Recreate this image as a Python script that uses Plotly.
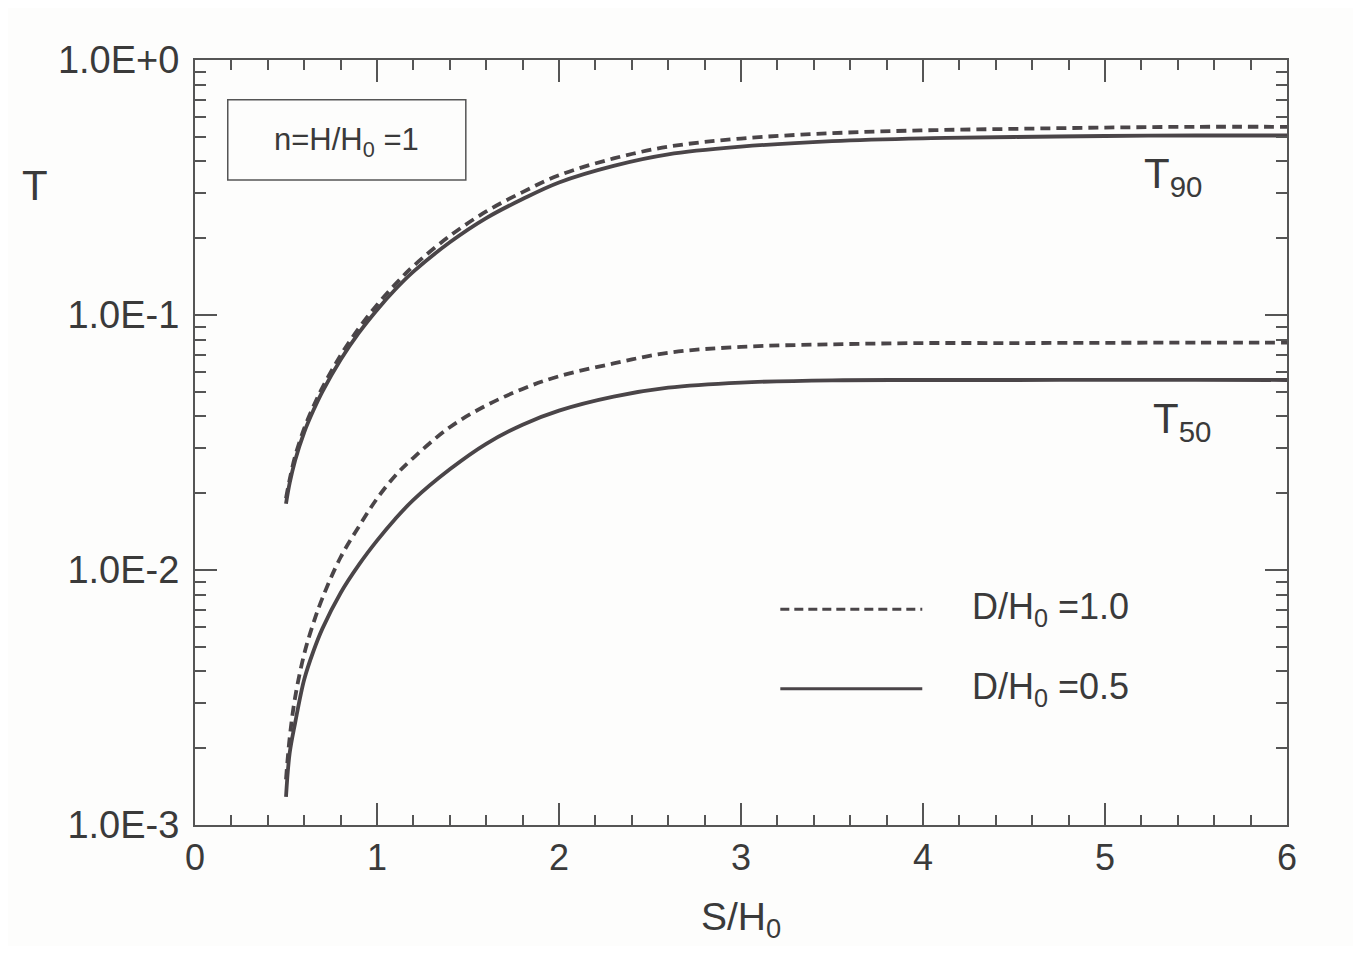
import plotly.graph_objects as go

# S/H0 positions
s_h0 = [0.5, 0.52, 0.55, 0.6, 0.65, 0.7, 0.8, 0.9, 1.0, 1.1, 1.2, 1.4,
        1.6, 1.8, 2.0, 2.3, 2.6, 3.0, 3.5, 4.0, 4.5, 5.0, 5.5, 6.0]

# T90 curves
t90_d10 = [0.0191, 0.0226, 0.0279, 0.0359, 0.0437, 0.0519, 0.0695, 0.0887, 0.1096, 0.1318, 0.1556, 0.2042,
           0.2547, 0.3034, 0.3532, 0.4111, 0.4571, 0.4920, 0.5164, 0.5297, 0.5370, 0.5433, 0.5470, 0.5470]
t90_d05 = [0.0182, 0.0219, 0.0269, 0.0347, 0.0422, 0.0501, 0.0668, 0.0851, 0.1047, 0.1259, 0.1479, 0.1928,
           0.2399, 0.2851, 0.3311, 0.3846, 0.4266, 0.4571, 0.4808, 0.4932, 0.4989, 0.5035, 0.5058, 0.5058]

# T50 curves
t50_d10 = [0.00151, 0.00219, 0.00316, 0.00468, 0.00617, 0.00776, 0.01122, 0.01479, 0.01905, 0.02344, 0.02754, 0.03631,
           0.04416, 0.05129, 0.05754, 0.06457, 0.07112, 0.07499, 0.07674, 0.07762, 0.07762, 0.0778, 0.0779, 0.0779]
t50_d05 = [0.00129, 0.00191, 0.00251, 0.00372, 0.00479, 0.00589, 0.00813, 0.01047, 0.01303, 0.01585, 0.01884, 0.02483,
           0.03126, 0.03715, 0.04217, 0.04786, 0.05188, 0.05433, 0.05546, 0.0556, 0.0556, 0.0557, 0.0557, 0.0556]

y_tickvals = [0.001, 0.01, 0.1, 1.0]
y_ticktext = ["1.0E-3", "1.0E-2", "1.0E-1", "1.0E+0"]
x_tickvals = [0, 1, 2, 3, 4, 5, 6]

ink = "#4a4548"
txt = "#3a3a3a"
font = "Liberation Sans, Arial, sans-serif"

fig = go.Figure()

for ys in [t90_d10, t50_d10]:
    fig.add_trace(go.Scatter(x=s_h0, y=ys, mode="lines", line_shape="spline",
                             line=dict(color=ink, width=3.8, dash="10px,6px"), showlegend=False))
for ys in [t90_d05, t50_d05]:
    fig.add_trace(go.Scatter(x=s_h0, y=ys, mode="lines", line_shape="spline",
                             line=dict(color=ink, width=3.8), showlegend=False))

minor_y = [m * 10 ** e for e in (-3, -2, -1) for m in range(2, 10)]

fig.update_xaxes(range=[0, 6], tickvals=x_tickvals, ticks="inside", ticklen=22, tickwidth=2,
                 tickcolor="#555", showline=True, linecolor="#555", linewidth=2, mirror="allticks",
                 showgrid=False, zeroline=False,
                 minor=dict(dtick=0.2, ticks="inside", ticklen=10, tickwidth=1.5, tickcolor="#555", showgrid=False),
                 tickfont=dict(family=font, size=36, color=txt))
fig.update_yaxes(type="log", range=[-3, 0], tickvals=y_tickvals, ticktext=y_ticktext,
                 ticks="inside", ticklen=22, tickwidth=2, tickcolor="#555", ticklabelstandoff=6,
                 showline=True, linecolor="#555", linewidth=2, mirror="allticks",
                 showgrid=False, zeroline=False,
                 minor=dict(tickvals=minor_y, ticks="inside", ticklen=11, tickwidth=1.5, tickcolor="#555", showgrid=False),
                 tickfont=dict(family=font, size=38, color=txt))

# box with n=H/H0=1
fig.add_shape(type="rect", xref="paper", yref="paper", x0=0.030, x1=0.248, y0=0.843, y1=0.948,
              line=dict(color="#555", width=1.5))

# legend keys
fig.add_shape(type="line", xref="paper", yref="paper", x0=0.536, x1=0.666, y0=0.282, y1=0.282,
              line=dict(color=ink, width=3, dash="9px,5px"))
fig.add_shape(type="line", xref="paper", yref="paper", x0=0.536, x1=0.666, y0=0.178, y1=0.178,
              line=dict(color=ink, width=3))

notes = [
    (0.139, 0.893, "n=H/H<sub>0</sub> =1", 31, "center"),
    (0.710, 0.282, "D/H<sub>0</sub> =1.0", 36, "left"),
    (0.710, 0.178, "D/H<sub>0</sub> =0.5", 36, "left"),
    (0.8956, 0.848, "T<sub>90</sub>", 42, "center"),
    (0.904, 0.527, "T<sub>50</sub>", 42, "center"),
    (-0.1465, 0.8366, "T", 42, "center"),
    (0.50, -0.124, "S/H<sub>0</sub>", 39, "center"),
]
for x, y, label, size, anchor in notes:
    fig.add_annotation(xref="paper", yref="paper", x=x, y=y, text=label, showarrow=False,
                       xanchor=anchor, yanchor="middle",
                       font=dict(family=font, size=size, color=txt))

# page body adds 8px, so figure is trimmed to keep the frame where the original sits
fig.update_layout(width=1345, height=938, margin=dict(l=187, r=66, t=52, b=121),
                  plot_bgcolor="#fdfdfc", paper_bgcolor="#fdfdfc")

fig.write_html("out.html")
